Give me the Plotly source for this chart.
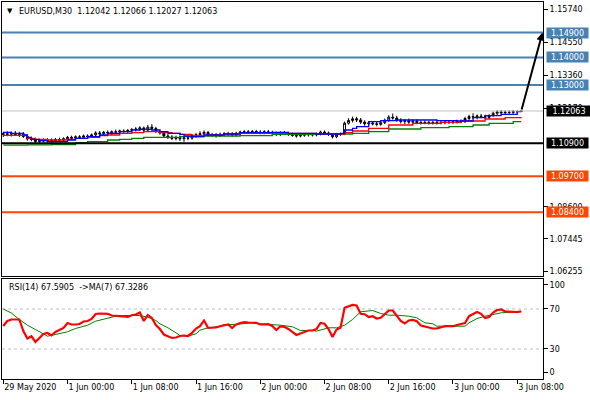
import plotly.graph_objects as go

FONT = "DejaVu Sans"

# ---------------- data ----------------
bars = list(range(130))
time_tick_bars = [0, 16, 32, 48, 64, 80, 96, 112, 128]
time_tick_labels = ["29 May 2020", "1 Jun 00:00", "1 Jun 08:00", "1 Jun 16:00", "2 Jun 00:00",
                    "2 Jun 08:00", "2 Jun 16:00", "3 Jun 00:00", "3 Jun 08:00"]

price_tick_vals = [1.15740, 1.14550, 1.13360, 1.12170, 1.08600, 1.07445, 1.06255]
price_tick_labels = ["1.15740", "1.14550", "1.13360", "1.12170", "1.08600", "1.07445", "1.06255"]

rsi_tick_vals = [7, 30, 70, 94]
rsi_tick_labels = ["0", "30", "70", "100"]
rsi_levels = [30, 70]

opens = [1.1121,1.1124,1.1122,1.1126,1.1121,1.1124,1.1114,1.1105,1.1103,1.1096,
         1.1100,1.1098,1.1102,1.1099,1.1103,1.1101,1.1106,1.1111,1.1108,1.1113,
         1.1111,1.1116,1.1114,1.1120,1.1127,1.1124,1.1129,1.1127,1.1131,1.1130,
         1.1134,1.1132,1.1136,1.1139,1.1141,1.1145,1.1137,1.1148,1.1143,1.1132,
         1.1127,1.1116,1.1112,1.1107,1.1110,1.1106,1.1109,1.1108,1.1116,1.1121,
         1.1124,1.1129,1.1119,1.1121,1.1117,1.1122,1.1124,1.1125,1.1119,1.1126,
         1.1130,1.1131,1.1129,1.1132,1.1130,1.1128,1.1131,1.1129,1.1126,1.1121,
         1.1127,1.1125,1.1122,1.1118,1.1116,1.1119,1.1120,1.1121,1.1120,1.1123,
         1.1130,1.1127,1.1121,1.1113,1.1122,1.1124,1.1162,1.1172,1.1178,1.1174,
         1.1166,1.1160,1.1163,1.1160,1.1158,1.1164,1.1173,1.1184,1.1181,1.1173,
         1.1168,1.1171,1.1166,1.1169,1.1164,1.1165,1.1163,1.1165,1.1162,1.1165,
         1.1164,1.1166,1.1165,1.1167,1.1170,1.1168,1.1179,1.1186,1.1184,1.1188,
         1.1186,1.1183,1.1190,1.1198,1.1203,1.1200,1.1202,1.1201,1.1204,1.12042]
highs = [1.1131,1.1133,1.1132,1.1134,1.1131,1.1130,1.1121,1.1113,1.1109,1.1106,
         1.1107,1.1108,1.1107,1.1109,1.1110,1.1111,1.1116,1.1117,1.1118,1.1119,
         1.1121,1.1122,1.1125,1.1133,1.1134,1.1134,1.1136,1.1136,1.1139,1.1139,
         1.1140,1.1141,1.1145,1.1148,1.1151,1.1150,1.1156,1.1159,1.1149,1.1139,
         1.1133,1.1123,1.1119,1.1117,1.1118,1.1116,1.1117,1.1121,1.1127,1.1133,
         1.1136,1.1134,1.1127,1.1127,1.1128,1.1130,1.1131,1.1130,1.1131,1.1135,
         1.1137,1.1138,1.1138,1.1138,1.1137,1.1137,1.1138,1.1135,1.1132,1.1133,
         1.1134,1.1131,1.1128,1.1125,1.1124,1.1126,1.1127,1.1127,1.1128,1.1135,
         1.1136,1.1132,1.1126,1.1127,1.1128,1.1168,1.1180,1.1186,1.1185,1.1181,
         1.1173,1.1169,1.1170,1.1168,1.1169,1.1179,1.1191,1.1197,1.1189,1.1180,
         1.1177,1.1179,1.1175,1.1175,1.1171,1.1172,1.1170,1.1171,1.1170,1.1171,
         1.1171,1.1172,1.1173,1.1175,1.1176,1.1185,1.1193,1.1198,1.1194,1.1196,
         1.1193,1.1195,1.1204,1.1209,1.1210,1.1208,1.1209,1.1210,1.1209,1.12066]
lows = [1.1112,1.1115,1.1114,1.1116,1.1112,1.1109,1.1099,1.1097,1.1090,1.1089,
        1.1093,1.1092,1.1093,1.1094,1.1096,1.1096,1.1101,1.1102,1.1103,1.1105,
        1.1106,1.1108,1.1109,1.1115,1.1118,1.1119,1.1121,1.1120,1.1124,1.1125,
        1.1126,1.1127,1.1130,1.1132,1.1134,1.1131,1.1132,1.1136,1.1127,1.1121,
        1.1111,1.1105,1.1101,1.1100,1.1098,1.1095,1.1101,1.1103,1.1110,1.1115,
        1.1114,1.1113,1.1112,1.1110,1.1112,1.1115,1.1116,1.1113,1.1114,1.1120,
        1.1123,1.1124,1.1123,1.1124,1.1122,1.1122,1.1123,1.1121,1.1116,1.1116,
        1.1119,1.1116,1.1113,1.1110,1.1111,1.1113,1.1114,1.1114,1.1115,1.1118,
        1.1121,1.1116,1.1107,1.1108,1.1116,1.1119,1.1157,1.1165,1.1166,1.1159,
        1.1153,1.1152,1.1154,1.1151,1.1153,1.1159,1.1167,1.1175,1.1167,1.1161,
        1.1159,1.1160,1.1160,1.1158,1.1157,1.1158,1.1157,1.1157,1.1157,1.1158,
        1.1158,1.1159,1.1159,1.1161,1.1162,1.1163,1.1173,1.1178,1.1176,1.1180,
        1.1177,1.1178,1.1185,1.1191,1.1194,1.1193,1.1195,1.1196,1.1198,1.12027]
closes = [1.1124,1.1122,1.1126,1.1121,1.1124,1.1114,1.1105,1.1103,1.1096,1.1100,
          1.1098,1.1102,1.1099,1.1103,1.1101,1.1106,1.1111,1.1108,1.1113,1.1111,
          1.1116,1.1114,1.1120,1.1127,1.1124,1.1129,1.1127,1.1131,1.1130,1.1134,
          1.1132,1.1136,1.1139,1.1141,1.1145,1.1137,1.1148,1.1143,1.1132,1.1127,
          1.1116,1.1112,1.1107,1.1110,1.1106,1.1109,1.1108,1.1116,1.1121,1.1124,
          1.1129,1.1119,1.1121,1.1117,1.1122,1.1124,1.1125,1.1119,1.1126,1.1130,
          1.1131,1.1129,1.1132,1.1130,1.1128,1.1131,1.1129,1.1126,1.1121,1.1127,
          1.1125,1.1122,1.1118,1.1116,1.1119,1.1120,1.1121,1.1120,1.1123,1.1130,
          1.1127,1.1121,1.1113,1.1122,1.1124,1.1162,1.1172,1.1178,1.1174,1.1166,
          1.1160,1.1163,1.1160,1.1158,1.1164,1.1173,1.1184,1.1181,1.1173,1.1168,
          1.1171,1.1166,1.1169,1.1164,1.1165,1.1163,1.1165,1.1162,1.1165,1.1164,
          1.1166,1.1165,1.1167,1.1170,1.1168,1.1179,1.1186,1.1184,1.1188,1.1186,
          1.1183,1.1190,1.1198,1.1203,1.1200,1.1202,1.1201,1.1204,1.12042,1.12063]

# moving averages on the price chart (stepped multi-timeframe lines)
blue_bars = [0,2,5,6,7,9,11,14,16,18,21,24,26,29,32,34,37,39,41,44,45,47,50,55,59,67,71,78,84,85,
             87,88,91,94,98,102,108,113,117,120,124,128,129]
blue_vals = [1.11292,1.11256,1.11195,1.11112,1.1104,1.1099,1.10953,1.10953,1.11014,1.11075,
             1.11133,1.11195,1.11256,1.11314,1.11375,1.114,1.11375,1.11314,1.11256,1.1122,
             1.11159,1.11133,1.11195,1.11231,1.11278,1.11292,1.11256,1.11231,1.11256,1.11375,
             1.11437,1.11495,1.11676,1.11712,1.11737,1.11737,1.11712,1.11701,1.1182,1.11892,
             1.11943,1.12037,1.12037]
red_bars = [0,4,6,8,11,15,16,18,21,24,26,29,32,35,39,42,44,47,51,55,59,67,78,84,85,87,91,96,102,109,
            114,120,125,129]
red_vals = [1.11184,1.11184,1.11075,1.1104,1.11014,1.11014,1.1104,1.11075,1.11112,1.1117,
            1.11195,1.11256,1.11278,1.11314,1.11278,1.11256,1.1122,1.11184,1.11206,1.11231,
            1.11256,1.11256,1.11231,1.11231,1.11278,1.1134,1.11437,1.11556,1.11618,1.11654,
            1.11701,1.11773,1.1182,1.11835]
green_bars = [0,6,12,18,21,26,29,32,35,44,50,59,67,74,78,84,87,91,96,104,111,117,121,127,129]
green_vals = [1.1083,1.1084,1.1085,1.10916,1.10953,1.11014,1.1104,1.11075,1.11112,1.11133,
              1.11159,1.1117,1.1122,1.1122,1.11231,1.11231,1.11256,1.11314,1.11412,1.11459,
              1.11495,1.11556,1.11618,1.11676,1.11676]

# RSI(14) per bar, and its MA(7)
rsi_vals = [53,58,59.5,59.5,59.5,48,40.5,42.8,37,41,
            45,46,43.5,47,49,51,56,54.5,54.5,55,
            57.5,58,60,65,65.5,65.2,65.2,63.5,62.8,62.8,
            62.5,62,63.8,64.5,66.5,58,64,61,54,50,
            44.5,43,41,41.5,43,43.5,43,46,50.5,52.8,
            58.5,51.2,51.2,51.5,52.8,54,54.5,51,54.5,56,
            56.8,56.5,56.2,56.2,54.5,55,54.8,53,49,52.5,
            52.2,50,47,44,45.5,47.2,48.5,48.5,50,56,
            55.2,50,42,49.5,51.2,71.2,73,74,73.5,65.2,
            64.8,62,62.8,60.5,61.2,64.5,68.5,68.5,63,58,
            55.5,58.5,59,57.8,53.5,52.5,52,50.5,50.5,52,
            52.8,52.8,52.8,54,54.8,56,62.8,64.8,67,65.2,
            61,62,66.5,69,69.5,67.5,67.2,66.8,67,67.59]
rsi_ma_bars = [0,2,4,6,8,10,11,13,16,18,21,23,26,28,30,33,34,36,38,39,
               41,43,44,46,48,49,51,54,55,58,62,64,67,69,72,74,77,78,81,83,
               85,87,89,91,92,94,96,98,101,103,105,107,108,111,115,116,118,120,122,124,129]
rsi_ma_vals = [70,66,59.5,53.8,49.5,45.2,42.8,44.5,47.2,50.5,53.8,57.8,61.2,62.8,63.5,63.8,63.5,61.8,58.5,55.2,
               51.2,46.2,43.5,42.8,45.2,48.8,51.2,52.8,54.5,54.5,56.2,55.2,54.5,53.8,52.2,48.5,48.5,47.8,51.2,51.2,
               53.8,59.5,67.2,68.5,68.5,65.5,63.8,63.8,62.8,61.2,56.2,55.2,52.8,52.8,52.8,56.2,60.5,62.8,64.5,66.2,67.33]

# horizontal price levels
level_vals = [1.14900, 1.14000, 1.13000, 1.12063, 1.10900, 1.09700, 1.08400]
level_labels = ["1.14900", "1.14000", "1.13000", "1.12063", "1.10900", "1.09700", "1.08400"]
level_colors = ["#4682B4", "#4682B4", "#4682B4", "#C0C0C0", "#000000", "#FF4500", "#FF4500"]
level_box_colors = ["#4682B4", "#4682B4", "#4682B4", "#000000", "#000000", "#FF4500", "#FF4500"]
level_widths = [2, 2, 2, 1, 2, 2, 2]

arrow_start = (129, 1.12063)
arrow_end = (134.3, 1.14900)

title_text = "EURUSD,M30\u00a0\u00a01.12042 1.12066 1.12027 1.12063"
rsi_text = "RSI(14) 67.5905\u00a0\u00a0->MA(7) 67.3286"

# ---------------- figure ----------------
fig = go.Figure()

fig.add_trace(go.Candlestick(
    x=bars, open=opens, high=highs, low=lows, close=closes,
    increasing=dict(line=dict(color="black", width=1), fillcolor="white"),
    decreasing=dict(line=dict(color="black", width=1), fillcolor="black"),
    whiskerwidth=0, xaxis="x", yaxis="y", showlegend=False, hoverinfo="skip"))

for bx, vals, col in [(green_bars, green_vals, "#008000"), (red_bars, red_vals, "#FF0000"),
                      (blue_bars, blue_vals, "#0000FF")]:
    fig.add_trace(go.Scatter(x=bx, y=vals, mode="lines", line=dict(color=col, width=1.3, shape="hv"),
                             xaxis="x", yaxis="y", showlegend=False, hoverinfo="skip"))

fig.add_trace(go.Scatter(x=rsi_ma_bars, y=rsi_ma_vals, mode="lines", line=dict(color="#008000", width=1),
                         xaxis="x2", yaxis="y2", showlegend=False, hoverinfo="skip"))
fig.add_trace(go.Scatter(x=bars, y=rsi_vals, mode="lines", line=dict(color="#FF0000", width=2.2),
                         xaxis="x2", yaxis="y2", showlegend=False, hoverinfo="skip"))

shapes = []
for v, c, w in zip(level_vals, level_colors, level_widths):
    shapes.append(dict(type="line", xref="x domain", yref="y", x0=0, x1=1, y0=v, y1=v,
                       line=dict(color=c, width=w), layer="above"))
for v in rsi_levels:
    shapes.append(dict(type="line", xref="x2 domain", yref="y2", x0=0, x1=1, y0=v, y1=v,
                       line=dict(color="#C0C0C0", width=1, dash="3px,3px"), layer="below"))

annotations = []
for v, t, bc in zip(level_vals, level_labels, level_box_colors):
    annotations.append(dict(xref="paper", yref="y", x=1, y=v, xanchor="left", yanchor="middle",
                            xshift=3, text=t, showarrow=False, bgcolor=bc, borderpad=0,
                            width=41 if t != "1.12063" else 44, height=10, align="center",
                            font=dict(family=FONT, size=8, color="white")))
annotations.append(dict(xref="x", yref="y", x=arrow_end[0], y=arrow_end[1], axref="x", ayref="y",
                        ax=arrow_start[0], ay=arrow_start[1], text="", showarrow=True,
                        arrowhead=2, arrowsize=0.8, arrowwidth=2, arrowcolor="black",
                        standoff=0, startstandoff=0))
annotations.append(dict(xref="paper", yref="paper", x=0, y=0.976, xanchor="left", yanchor="middle",
                        xshift=3, text="\u25bc", showarrow=False,
                        font=dict(family=FONT, size=7, color="black")))
annotations.append(dict(xref="paper", yref="paper", x=0, y=0.976, xanchor="left", yanchor="middle",
                        xshift=15, text=title_text, showarrow=False,
                        font=dict(family=FONT, size=8, color="black")))
annotations.append(dict(xref="paper", yref="paper", x=0, y=0.2414, xanchor="left", yanchor="middle",
                        xshift=5, text=rsi_text, showarrow=False,
                        font=dict(family=FONT, size=8, color="black")))

axis_common = dict(showline=True, linecolor="black", linewidth=1, mirror=True, showgrid=False,
                   zeroline=False, tickcolor="black", tickfont=dict(family=FONT, size=8, color="black"))

x_range = [-0.32, 134.42]

fig.update_layout(
    width=590, height=400,
    margin=dict(l=2, r=47, t=2, b=21),
    paper_bgcolor="white", plot_bgcolor="white",
    hovermode=False,
    font=dict(family=FONT, size=8, color="black"),
    xaxis=dict(domain=[0, 1], anchor="y", range=x_range, showticklabels=False, ticks="",
               rangeslider=dict(visible=False), matches="x2", **axis_common),
    yaxis=dict(domain=[0.2732, 1], anchor="x", side="right", range=[1.06097, 1.16003],
               tickvals=price_tick_vals, ticktext=price_tick_labels, ticks="outside", ticklen=4,
               **axis_common),
    xaxis2=dict(domain=[0, 1], anchor="y2", range=x_range, tickvals=time_tick_bars,
                ticktext=time_tick_labels, ticks="outside", ticklen=4,
                ticklabelposition="outside right", **axis_common),
    yaxis2=dict(domain=[0, 0.2653], anchor="x2", side="right", range=[0, 100],
                tickvals=rsi_tick_vals, ticktext=rsi_tick_labels, ticks="outside", ticklen=4,
                **axis_common),
    shapes=shapes,
    annotations=annotations,
)

fig.write_html("out.html", config={"displayModeBar": False},
               post_script="document.body.style.margin='0';document.body.style.overflow='hidden';")
